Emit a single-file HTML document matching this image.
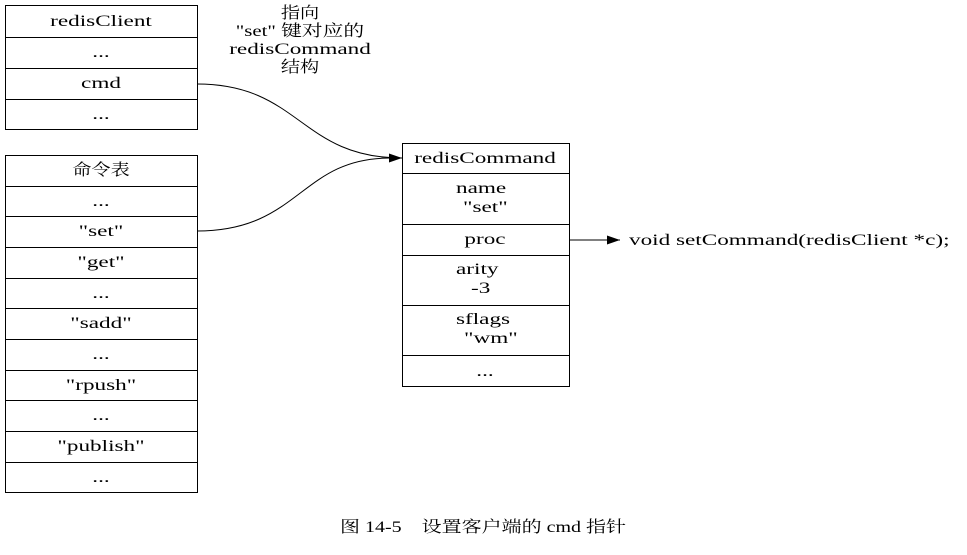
<!DOCTYPE html>
<html><head><meta charset="utf-8"><style>
body{margin:0;background:#fff;}
svg text{font-family:"Liberation Serif","Noto Serif CJK SC",serif;font-size:16px;fill:#000;}
</style></head><body>
<svg width="967" height="550" viewBox="0 0 967 550" xmlns="http://www.w3.org/2000/svg">
<defs><marker id="a" markerWidth="13" markerHeight="9" refX="13" refY="4.5" orient="auto" markerUnits="userSpaceOnUse"><path d="M0,0 L13,4.5 L0,9 z" fill="#000"/></marker></defs>
<g fill="none" stroke="#000" stroke-width="1">
<rect x="5.5" y="5.5" width="192" height="124"/>
<line x1="5" y1="37.5" x2="197" y2="37.5"/><line x1="5" y1="68.5" x2="197" y2="68.5"/><line x1="5" y1="99.5" x2="197" y2="99.5"/>
<rect x="5.5" y="155.5" width="192" height="337"/>
<line x1="5" y1="186.5" x2="197" y2="186.5"/><line x1="5" y1="216.5" x2="197" y2="216.5"/><line x1="5" y1="247.5" x2="197" y2="247.5"/><line x1="5" y1="278.5" x2="197" y2="278.5"/><line x1="5" y1="308.5" x2="197" y2="308.5"/><line x1="5" y1="339.5" x2="197" y2="339.5"/><line x1="5" y1="370.5" x2="197" y2="370.5"/><line x1="5" y1="400.5" x2="197" y2="400.5"/><line x1="5" y1="431.5" x2="197" y2="431.5"/><line x1="5" y1="462.5" x2="197" y2="462.5"/>
<rect x="402.5" y="143.5" width="167" height="243"/>
<line x1="402" y1="173.5" x2="569" y2="173.5"/><line x1="402" y1="224.5" x2="569" y2="224.5"/><line x1="402" y1="255.5" x2="569" y2="255.5"/><line x1="402" y1="305.5" x2="569" y2="305.5"/><line x1="402" y1="355.5" x2="569" y2="355.5"/>
<path d="M197,84 C300,84 300,158 402,158" marker-end="url(#a)"/>
<path d="M197,231 C300,231 300,158 390,158"/>
<path d="M569,240 L620,240" marker-end="url(#a)"/>
</g>
<g text-anchor="middle">
<text transform="translate(101,26) scale(1.45,1)">redisClient</text>
<text transform="translate(101,57) scale(1.45,1)">...</text>
<text transform="translate(101,88) scale(1.45,1)">cmd</text>
<text transform="translate(101,119) scale(1.45,1)">...</text>
<text transform="translate(101,175) scale(1.2,1)">命令表</text>
<text transform="translate(101,206) scale(1.45,1)">...</text>
<text transform="translate(101,236) scale(1.45,1)">"set"</text>
<text transform="translate(101,267) scale(1.45,1)">"get"</text>
<text transform="translate(101,298) scale(1.45,1)">...</text>
<text transform="translate(101,328) scale(1.45,1)">"sadd"</text>
<text transform="translate(101,359) scale(1.45,1)">...</text>
<text transform="translate(101,390) scale(1.45,1)">"rpush"</text>
<text transform="translate(101,420) scale(1.45,1)">...</text>
<text transform="translate(101,451) scale(1.45,1)">"publish"</text>
<text transform="translate(101,482) scale(1.45,1)">...</text>
<text transform="translate(485,163) scale(1.45,1)">redisCommand</text>
<text transform="translate(485,244) scale(1.45,1)">proc</text>
<text transform="translate(485,376) scale(1.45,1)">...</text>
<text transform="translate(300,18) scale(1.2,1)">指向</text>
<text transform="translate(300,36) scale(1.3,1)">"set" 键对应的</text>
<text transform="translate(300,54) scale(1.45,1)">redisCommand</text>
<text transform="translate(300,72) scale(1.2,1)">结构</text>
<text transform="translate(483,532) scale(1.25,1)">图 14-5　设置客户端的 cmd 指针</text>
</g>
<text transform="translate(456,193) scale(1.45,1)">name</text>
<text transform="translate(463,212) scale(1.45,1)">"set"</text>
<text transform="translate(456,274) scale(1.45,1)">arity</text>
<text transform="translate(471,293) scale(1.45,1)">-3</text>
<text transform="translate(456,324) scale(1.45,1)">sflags</text>
<text transform="translate(464,343) scale(1.45,1)">"wm"</text>
<text transform="translate(629,245) scale(1.45,1)">void setCommand(redisClient *c);</text>
</svg>
</body></html>
